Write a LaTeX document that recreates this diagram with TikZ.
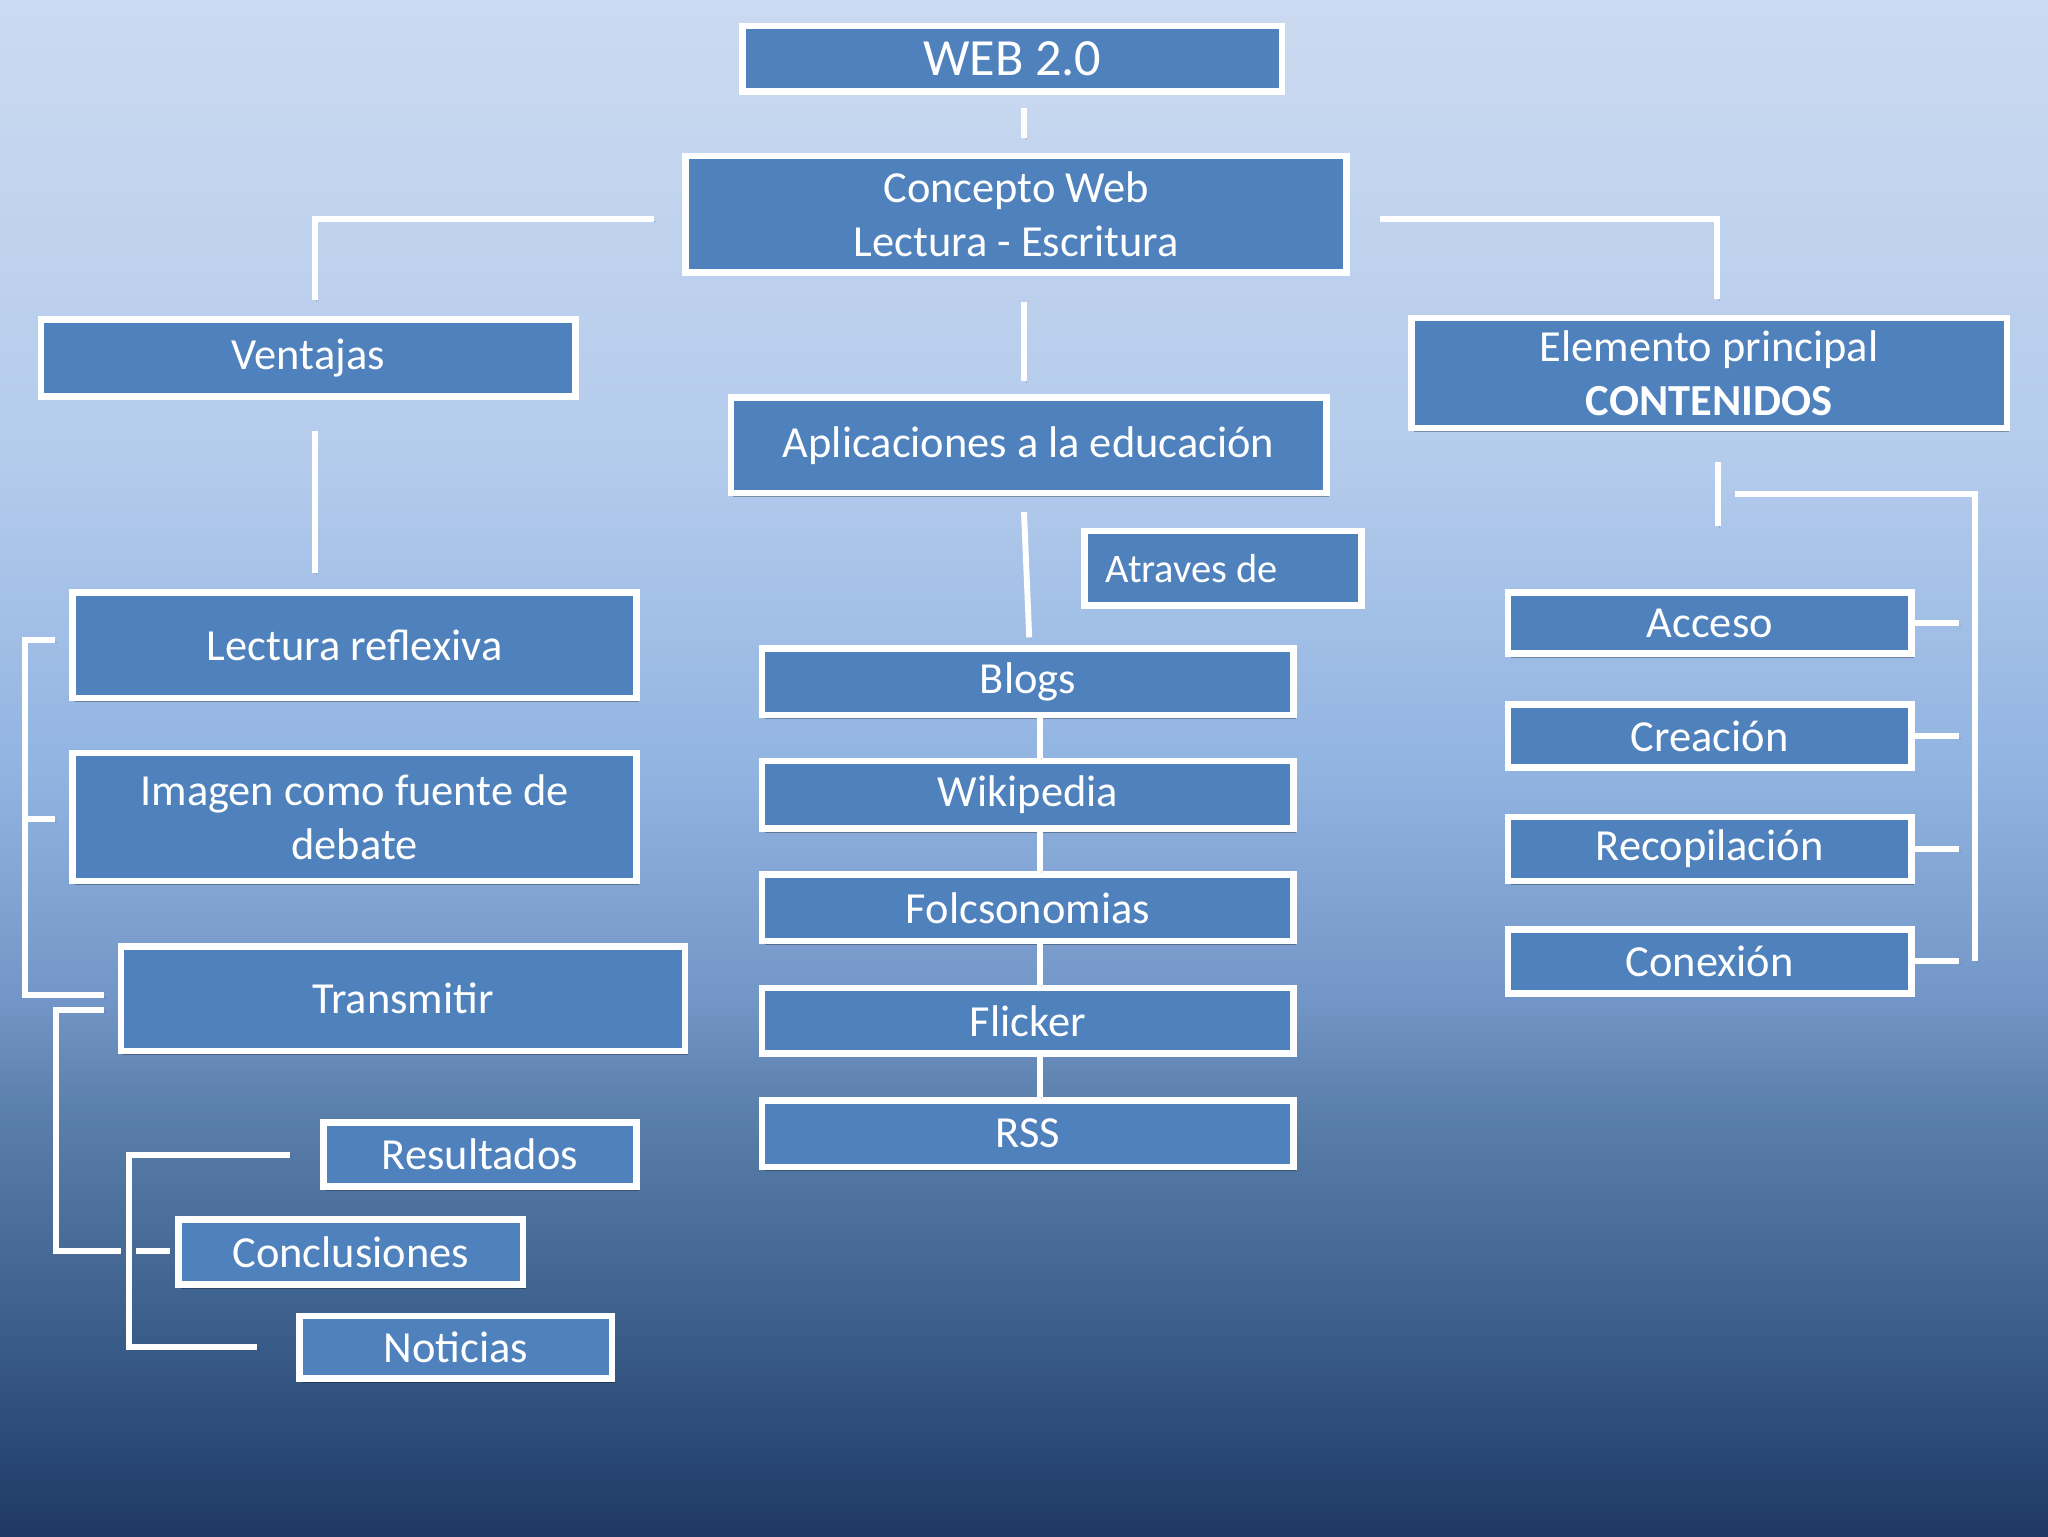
\documentclass[tikz,border=0pt]{standalone}
\usepackage{fontspec}
\setmainfont{Carlito}
\usetikzlibrary{calc,shadows}
\definecolor{boxblue}{RGB}{79,129,189}
\definecolor{bgA}{RGB}{203,218,240}
\definecolor{bgB}{RGB}{180,203,236}
\definecolor{bgC}{RGB}{145,180,225}
\definecolor{bgD}{RGB}{115,150,200}
\definecolor{bgE}{RGB}{92,128,172}
\definecolor{bgF}{RGB}{60,95,140}
\definecolor{bgG}{RGB}{30,57,100}
\pgfdeclareverticalshading{bgshade}{100bp}{color(0bp)=(bgG); color(25bp)=(bgG); color(32bp)=(bgF); color(39bp)=(bgE); color(42.5bp)=(bgD); color(50bp)=(bgC); color(60bp)=(bgB); color(75bp)=(bgA); color(100bp)=(bgA)}
\tikzset{
  box/.style={draw=white, line width=5pt, fill=boxblue, text=white, align=center,
    inner sep=0pt, font=\fontsize{34}{41.5}\selectfont,
    drop shadow={shadow xshift=2pt, shadow yshift=-3pt, opacity=.3, fill=black}},
  conn/.style={draw=white, line width=4.5pt,
    preaction={draw=black, opacity=.15, transform canvas={xshift=1.5pt, yshift=-1.5pt}}}
}
\begin{document}
\begin{tikzpicture}[x=1pt,y=-1pt]
\useasboundingbox (0,0) rectangle (1568,1176);
\shade[shading=bgshade] (0,0) rectangle (1568,1176);

% top
\node[box, minimum width=413, minimum height=50, font=\fontsize{40}{48}\selectfont] (web) at (775,45) {WEB 2.0};
\node[box, minimum width=506, minimum height=89] (concepto) at (778,164) {Concepto Web\\Lectura - Escritura};
\node[box, minimum width=409, minimum height=59] (ventajas) at (236,274) {Ventajas};
\node[box, minimum width=456, minimum height=84] (elemento) at (1308.5,285.5) {Elemento principal\\\textbf{CONTENIDOS}};
\node[box, minimum width=456, minimum height=73] (aplic) at (787.5,341) {Aplicaciones a la educación};
\node[box, minimum width=212, minimum height=57, font=\fontsize{31}{37}\selectfont] (atraves) at (936.5,435) {\makebox[180pt][l]{Atraves de}};

% left column
\node[box, minimum width=432, minimum height=81] (lectura) at (271.5,494) {Lectura reflexiva};
\node[box, minimum width=432, minimum height=98] (imagen) at (271.5,625.5) {Imagen como fuente de\\debate};
\node[box, minimum width=432, minimum height=80] (transmitir) at (308.5,764.5) {Transmitir};
\node[box, minimum width=240, minimum height=49] (resultados) at (367.5,884) {Resultados};
\node[box, minimum width=264, minimum height=50] (conclusiones) at (268.5,958.5) {Conclusiones};
\node[box, minimum width=239, minimum height=48] (noticias) at (349,1031.5) {Noticias};

% middle column
\node[box, minimum width=407, minimum height=51] (blogs) at (787,522) {Blogs};
\node[box, minimum width=407, minimum height=52] (wiki) at (787,608.5) {Wikipedia};
\node[box, minimum width=407, minimum height=51] (folc) at (787,695) {Folcsonomias};
\node[box, minimum width=407, minimum height=50] (flicker) at (787,781.5) {Flicker};
\node[box, minimum width=407, minimum height=51] (rss) at (787,868) {RSS};

% right column
\node[box, minimum width=309, minimum height=47] (acceso) at (1309,477) {Acceso};
\node[box, minimum width=309, minimum height=48] (creacion) at (1309,563.5) {Creación};
\node[box, minimum width=309, minimum height=49] (recop) at (1309,650) {Recopilación};
\node[box, minimum width=309, minimum height=49] (conexion) at (1309,736) {Conexión};

% connectors
\draw[conn] ($(web.south)+(9,10)$) -- ($(concepto.north)+(6,-11)$);
\draw[conn] ($(concepto.west)+(-22,4)$) -| ($(ventajas.north)+(5,-12)$);
\draw[conn] ($(concepto.east)+(23,4)$) -| ($(elemento.north)+(6,-12)$);
\draw[conn] ($(concepto.south)+(6,20)$) -- ($(aplic.north)+(-3.5,-10)$);
\draw[conn] ($(ventajas.south)+(5,24)$) -- ($(lectura.north)+(-30.5,-12)$);
\draw[conn] ($(aplic.south)+(-3.5,12)$) -- ($(blogs.north)+(1,-6)$);
\draw[conn] ($(blogs.south)+(9,0)$) -- ($(wiki.north)+(9,0)$);
\draw[conn] ($(wiki.south)+(9,0)$) -- ($(folc.north)+(9,0)$);
\draw[conn] ($(folc.south)+(9,0)$) -- ($(flicker.north)+(9,0)$);
\draw[conn] ($(flicker.south)+(9,0)$) -- ($(rss.north)+(9,0)$);

% left brackets
\draw[conn] ($(lectura.west)+(-11,-4)$) -- ++(-23,0) |- ($(transmitir.west)+(-10,-2.5)$);
\draw[conn] ($(imagen.west)+(-34,1.5)$) -- ++(23,0);
\draw[conn] ($(transmitir.west)+(-10,8.5)$) -- ++(-37,0) |- ($(conclusiones.west)+(-41,-0.5)$);
\draw[conn] ($(conclusiones.west)+(-30,-0.5)$) -- ($(conclusiones.west)+(-4,-0.5)$);
\draw[conn] ($(resultados.west)+(-23,0)$) -- ++(-123,0) |- ($(noticias.west)+(-30,0)$);

% right bracket
\draw[conn] ($(elemento.south)+(6.5,24)$) -- ++(0,49);
\draw[conn] ($(elemento.south)+(19.5,48)$) -| ($(conexion.east)+(46,0)$);
\draw[conn] (acceso.east) -- ++(34,0);
\draw[conn] (creacion.east) -- ++(34,0);
\draw[conn] (recop.east) -- ++(34,0);
\draw[conn] (conexion.east) -- ++(34,0);
\end{tikzpicture}
\end{document}
